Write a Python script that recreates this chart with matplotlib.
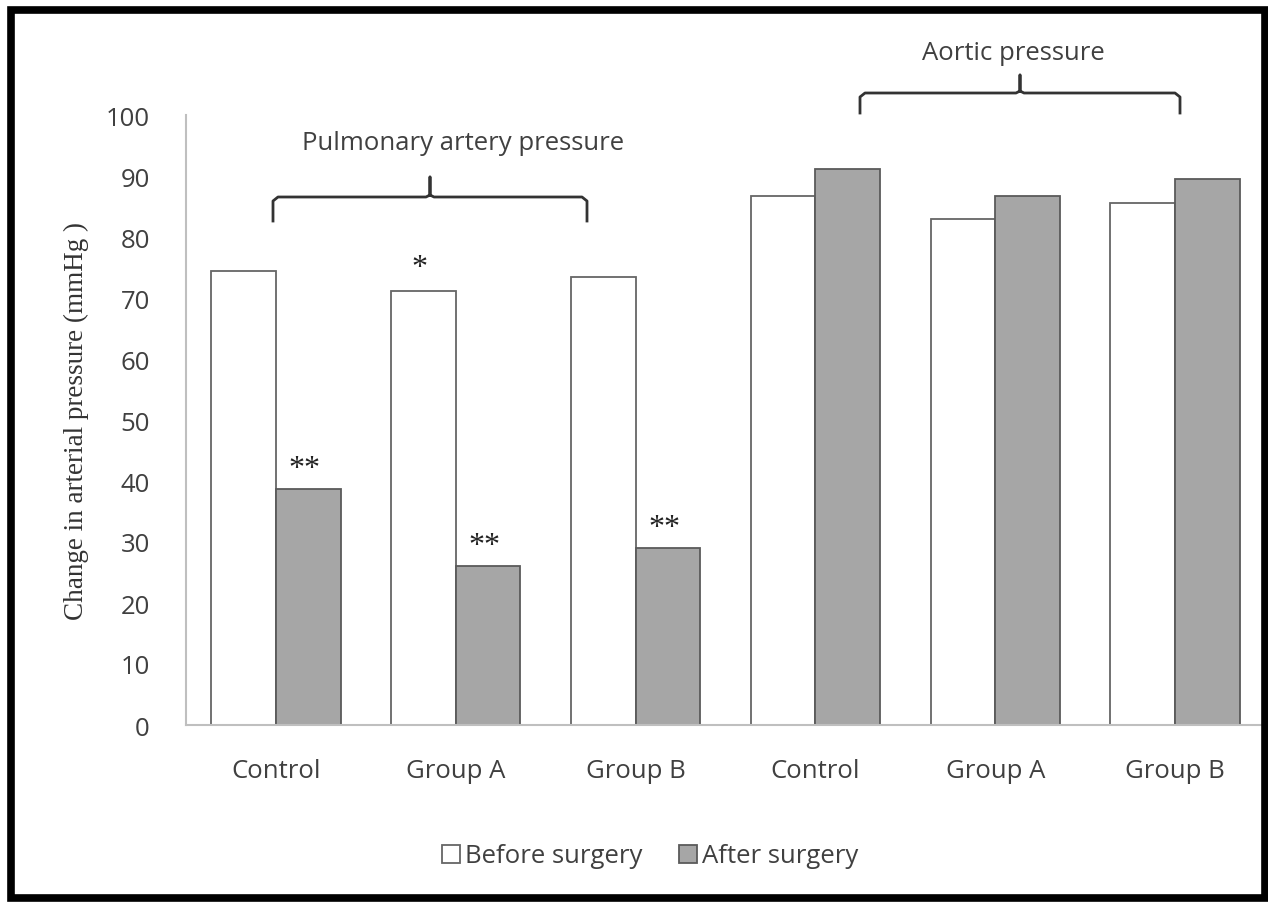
import matplotlib.pyplot as plt
from matplotlib.patches import Rectangle
import numpy as np

# data
groups = ["Control", "Group A", "Group B", "Control", "Group A", "Group B"]
before = [74.4, 71.1, 73.4, 86.7, 82.9, 85.6]
after = [38.7, 26.1, 29.0, 91.1, 86.7, 89.5]
marks_before = ["", "*", "", "", "", ""]
marks_after = ["**", "**", "**", "", "", ""]

W, H = 1268, 903
fig = plt.figure(figsize=(W / 100, H / 100), dpi=100)
ax = fig.add_axes([186 / W, 1 - 726 / H, (1265 - 186) / W, (726 - 116) / H])

x = np.arange(len(groups))
bw = 0.36
ax.bar(x - bw / 2, before, bw, color="white", edgecolor="#666666", linewidth=1.3,
       label="Before surgery")
ax.bar(x + bw / 2, after, bw, color="#a6a6a6", edgecolor="#5a5a5a", linewidth=1.3,
       label="After surgery")

# significance stars
for i in range(len(groups)):
    if marks_before[i]:
        ax.text(x[i] - bw / 2 - 0.02, before[i] + 1.6, marks_before[i], ha="center",
                va="bottom", fontsize=23, family="Liberation Serif", color="#222222")
    if marks_after[i]:
        ax.text(x[i] + bw / 2 - 0.02, after[i] + 1.0, marks_after[i], ha="center",
                va="bottom", fontsize=23, family="Liberation Serif", color="#222222")

ax.set_xlim(-0.5, 5.5)
ax.set_ylim(0, 100)
ax.set_yticks(range(0, 101, 10))
ax.set_xticks(x)
ax.set_xticklabels(groups)
ax.tick_params(axis="both", length=0, labelsize=18.5, colors="#404040")
ax.tick_params(axis="x", pad=24)
ax.tick_params(axis="y", pad=26)
for lab in ax.get_xticklabels() + ax.get_yticklabels():
    lab.set_family("Open Sans")
for s in ["top", "right"]:
    ax.spines[s].set_visible(False)
ax.spines["left"].set_color("#bfbfbf")
ax.spines["bottom"].set_color("#bfbfbf")
ax.spines["left"].set_linewidth(1.5)
ax.spines["bottom"].set_linewidth(1.5)

ax.set_ylabel("Change in arterial pressure (mmHg )", family="Liberation Serif",
              fontsize=19.5, color="#333333", labelpad=12)


# braces drawn in figure pixel coordinates
def brace(x0, x1, y, drop, rise, label, tx, ty):
    xm = (x0 + x1) / 2
    px = [x0, x0, x0 + 5, xm - 4, xm, xm, xm, xm + 4, x1 - 5, x1, x1]
    py = [y + drop, y + 4, y, y, y - 2, y - rise, y - 2, y, y, y + 4, y + drop]
    fig.add_artist(plt.Line2D([p / W for p in px], [1 - p / H for p in py],
                              color="#333333", lw=2.0))
    fig.text(tx / W, 1 - ty / H, label, ha="center", va="center", fontsize=18.5,
             family="Open Sans", color="#404040")


brace(273, 587, 198, 24, 20, "Pulmonary artery pressure", 463, 143)
brace(860, 1180, 94, 20, 18, "Aortic pressure", 1013, 53)

leg = fig.legend(loc="center", bbox_to_anchor=(650 / W, 1 - 857 / H), ncol=2,
                 frameon=False, handlelength=0.7, handleheight=0.7,
                 handletextpad=0.2, columnspacing=1.4,
                 prop={"family": "Open Sans", "size": 18.5})
for t in leg.get_texts():
    t.set_color("#404040")

# thick black frame around the figure
fig.add_artist(Rectangle((11 / W, 4 / H), (1265 - 11) / W, (892 - 4) / H,
                         transform=fig.transFigure, fill=False, edgecolor="black",
                         linewidth=5.5))

fig.savefig("out.png", dpi=100)
